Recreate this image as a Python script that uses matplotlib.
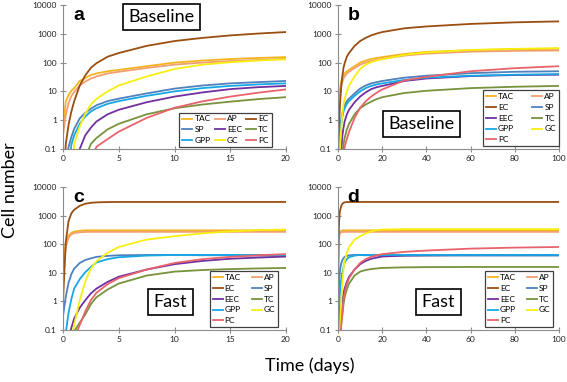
import matplotlib
matplotlib.use('Agg')
import matplotlib.pyplot as plt

plt.rcParams['font.family'] = ['Lato', 'DejaVu Sans']

days = [0, 0.25, 0.5, 0.75, 1, 1.5, 2, 2.5, 3, 4, 5, 7.5, 10, 12.5, 15, 17.5, 20, 30, 40, 60, 80, 100]

names = ['TAC', 'AP', 'EC', 'SP', 'EEC', 'TC', 'GPP', 'GC', 'PC']
colors = ['#F5B41E', '#F0A070', '#9A4E10', '#4F81BD', '#7030A0', '#77933C', '#16A8E6', '#F8EE10', '#E8636B']

# baseline model
base_tac = [0.55, 4.5, 7.5, 10.5, 13, 23, 29, 37, 42, 50, 56, 75, 100, 118, 133, 145, 155, 200, 235, 270, 290, 300]
base_ap = [0.3, 1.5, 4, 7, 9.5, 16, 22, 28, 33, 42, 48, 65, 85, 100, 113, 124, 135, 175, 205, 240, 255, 262]
base_ec = [0.001, 0.15, 0.7, 2, 4.5, 16, 36, 66, 95, 160, 215, 380, 560, 720, 880, 1020, 1150, 1550, 1800, 2200, 2500, 2700]
base_sp = [0.001, 0.03, 0.12, 0.26, 0.5, 1.15, 1.8, 2.5, 3.3, 4.6, 5.6, 8.5, 12.5, 16, 19, 21, 23, 30, 35, 43, 48, 50]
base_eec = [0.001, 0.001, 0.001, 0.003, 0.01, 0.1, 0.3, 0.55, 0.9, 1.6, 2.3, 4.2, 6.6, 9.2, 12, 14, 15.5, 23, 28, 34, 37, 38]
base_tc = [0.001, 0.001, 0.001, 0.001, 0.001, 0.005, 0.05, 0.15, 0.24, 0.48, 0.75, 1.6, 2.6, 3.5, 4.4, 5.4, 6.3, 8.8, 10.5, 13, 14.5, 15.5]
base_gpp = [0.001, 0.001, 0.02, 0.14, 0.3, 0.75, 1.35, 2.0, 2.6, 3.7, 4.6, 7, 10, 13, 15.5, 17.5, 19, 25, 30, 35, 38, 40]
base_gc = [0.001, 0.001, 0.001, 0.001, 0.15, 0.6, 1.7, 3.5, 5.5, 10, 16, 33, 60, 85, 103, 118, 130, 185, 225, 275, 300, 320]
base_pc = [0.001, 0.001, 0.001, 0.001, 0.001, 0.001, 0.005, 0.04, 0.12, 0.22, 0.4, 1.2, 2.7, 4.5, 6.6, 9, 11.7, 24, 32, 50, 64, 75]

# fast model
fast_tac = [12, 110, 200, 250, 275, 295, 305, 305, 305, 305, 305, 305, 305, 305, 305, 305, 305, 305, 305, 305, 305, 305]
fast_ap = [6, 80, 170, 220, 245, 262, 268, 270, 270, 270, 270, 270, 270, 270, 270, 270, 270, 270, 270, 270, 270, 270]
fast_ec = [1, 120, 650, 1200, 1600, 2200, 2600, 2800, 2900, 2980, 3000, 3000, 3000, 3000, 3000, 3000, 3000, 3000, 3000, 3000, 3000, 3000]
fast_sp = [0.3, 1.5, 4.5, 9, 14, 22, 28, 32, 36, 39, 41, 42, 42, 41, 41, 40, 40, 40, 40, 40, 40, 40]
fast_eec = [0.001, 0.01, 0.05, 0.12, 0.25, 0.6, 1.1, 1.9, 2.8, 4.8, 7.3, 13, 20, 26, 31, 34, 37, 40, 41, 42, 42, 42]
fast_tc = [0.001, 0.001, 0.001, 0.01, 0.09, 0.18, 0.35, 0.8, 1.4, 2.6, 4.2, 8, 11, 12.5, 13.5, 14.2, 14.8, 15.5, 15.8, 16, 16, 16]
fast_gpp = [0.01, 0.08, 0.4, 1.2, 2.8, 6, 10.5, 16, 23, 30, 35, 40, 42, 42, 42, 42, 42, 42, 42, 42, 42, 42]
fast_gc = [0.001, 0.001, 0.001, 0.05, 0.15, 1.1, 5, 14, 25, 50, 80, 145, 190, 240, 280, 310, 325, 335, 335, 335, 335, 335]
fast_pc = [0.001, 0.001, 0.001, 0.001, 0.05, 0.15, 0.45, 1.1, 2, 4, 6.5, 13, 22, 30, 36, 41, 45, 54, 60, 70, 76, 80]

baseline = [base_tac, base_ap, base_ec, base_sp, base_eec, base_tc, base_gpp, base_gc, base_pc]
fast = [fast_tac, fast_ap, fast_ec, fast_sp, fast_eec, fast_tc, fast_gpp, fast_gc, fast_pc]

yticks = [0.1, 1, 10, 100, 1000, 10000]
ytick_labels = ['0.1', '1', '10', '100', '1000', '10000']

fig = plt.figure(figsize=(5.67, 3.82), dpi=100)
W, H = 567.0, 382.0


def add_axes(x0, x1, y0, y1):
    return fig.add_axes([x0 / W, 1 - y1 / H, (x1 - x0) / W, (y1 - y0) / H])


ax_a = add_axes(63, 286, 5, 149)
ax_b = add_axes(338, 559, 5, 149)
ax_c = add_axes(63, 286, 187, 330)
ax_d = add_axes(338, 559, 187, 330)

# axes, data, x max, x ticks, letter, legend columns, legend anchor, column spacing
panels = [
    (ax_a, baseline, 20, [0, 5, 10, 15, 20], 'a', 3, (0.935, 0.015), 0.5),
    (ax_b, baseline, 100, [0, 20, 40, 60, 80, 100], 'b', 2, (1.0, 0.02), 2.2),
    (ax_c, fast, 20, [0, 5, 10, 15, 20], 'c', 2, (0.965, 0.02), 1.3),
    (ax_d, fast, 100, [0, 20, 40, 60, 80, 100], 'd', 2, (0.975, 0.02), 1.3),
]

for ax, data, xmax, xticks, letter, ncol, anchor, colsp in panels:
    handles = []
    for name, vals, col in zip(names, data, colors):
        h, = ax.plot(days, vals, color=col, linewidth=1.3, label=name)
        handles.append(h)
    ax.set_yscale('log')
    ax.set_ylim(0.1, 10000)
    ax.set_xlim(0, xmax)
    ax.set_yticks(yticks)
    ax.set_yticklabels(ytick_labels)
    ax.minorticks_off()
    ax.set_xticks(xticks)
    ax.set_xticklabels([str(x) for x in xticks])
    for s in ['top', 'right']:
        ax.spines[s].set_visible(False)
    for s in ['left', 'bottom']:
        ax.spines[s].set_color('#8c8c8c')
        ax.spines[s].set_linewidth(0.8)
    ax.tick_params(direction='inout', length=5, width=0.8, color='#8c8c8c',
                   labelsize=6, pad=2, labelcolor='#222222')
    ax.text(0.07, 0.93, letter, transform=ax.transAxes, fontsize=14, fontweight='bold',
            family='Liberation Sans', ha='center', va='center')

    if ncol == 3:
        order = [0, 3, 6, 1, 4, 7, 2, 5, 8]
    else:
        order = [0, 2, 4, 6, 8, 1, 3, 5, 7]
    leg = ax.legend([handles[i] for i in order], [names[i] for i in order],
                    ncol=ncol, loc='lower right', bbox_to_anchor=anchor,
                    fontsize=6, handlelength=1.2, handletextpad=0.25,
                    columnspacing=colsp, labelspacing=0.45, borderpad=0.35,
                    borderaxespad=0, fancybox=False, framealpha=1)
    leg.get_frame().set_edgecolor('#404040')
    leg.get_frame().set_linewidth(0.9)

# scenario boxes
box = dict(boxstyle='square,pad=0.3', facecolor='white', edgecolor='black', linewidth=1.2)
fig.text(161.5 / W, 1 - 17 / H, 'Baseline', fontsize=13, ha='center', va='center', bbox=box)
fig.text(421.5 / W, 1 - 124 / H, 'Baseline', fontsize=13, ha='center', va='center', bbox=box)
fig.text(170.5 / W, 1 - 302 / H, 'Fast', fontsize=13, ha='center', va='center', bbox=box)
fig.text(438.5 / W, 1 - 302 / H, 'Fast', fontsize=13, ha='center', va='center', bbox=box)

fig.text(10 / W, 1 - 190 / H, 'Cell number', fontsize=13, rotation=90, ha='center', va='center')
fig.text(310 / W, 1 - 366 / H, 'Time (days)', fontsize=13, ha='center', va='center')

fig.savefig('out.png', dpi=100)
